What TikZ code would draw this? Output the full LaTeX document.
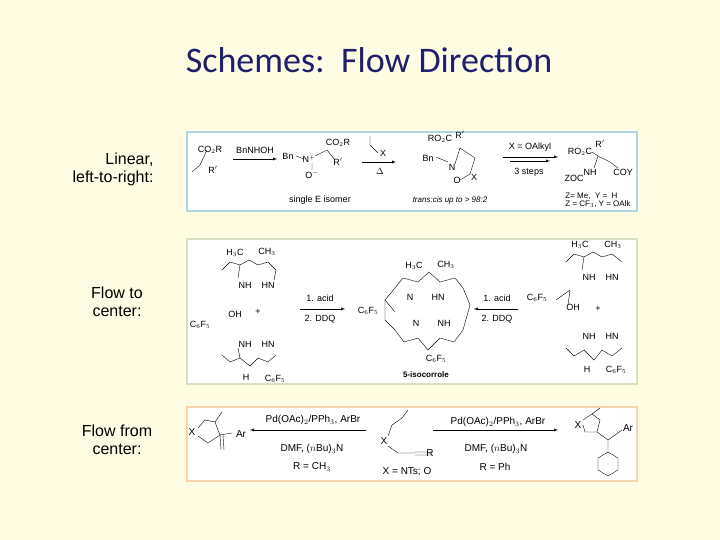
\documentclass[tikz,border=0pt]{standalone}
\usepackage{fontspec}
\setmainfont{Liberation Sans}
\newfontfamily\titlefont{Carlito}
\begin{document}
\begin{tikzpicture}[x=1pt,y=-1pt,
  lbl/.style={font=\fontsize{16}{18}\selectfont,align=center,text=black},
  ch/.style={font=\fontsize{9}{10}\selectfont,inner sep=0.5pt},
  rx/.style={-latex,thin},
  bond/.style={thin}]
\fill[fill={rgb,255:red,254;green,253;blue,227}] (0,0) rectangle (720,540);
\useasboundingbox (0,0) rectangle (720,540);
\node[font=\titlefont\fontsize{36}{40}\selectfont,text={rgb,255:red,31;green,31;blue,110}] (title) at (369,60) {Schemes:\ \ Flow Direction};
\node[lbl,align=right,anchor=east] (l1) at (157,169) {Linear,\\left-to-right:};
\node[lbl] (l2) at (117,302) {Flow to\\center:};
\node[lbl] (l3) at (117,440) {Flow from\\center:};
% boxes
\draw[line width=2pt,draw={rgb,255:red,173;green,214;blue,225},fill=white] (187,132) rectangle (637,211);
\draw[line width=2pt,draw={rgb,255:red,214;green,226;blue,190},fill=white] (187,239) rectangle (637,384);
\draw[line width=2pt,draw={rgb,255:red,245;green,210;blue,170},fill=white] (187,407) rectangle (637,481);
% box 1
\node[ch] (a1) at (210,150) {CO$_2$R};
\node[ch] (a2) at (213,170) {R$'$};
\draw[bond] (192,172)--(200,165)--(207,150);
\node[ch] (r1) at (255,150) {BnNHOH};
\draw[rx] (233,159)--(277,159);
\node[ch] (b1) at (288,156) {Bn};
\node[ch] (b2) at (309,159) {N$^+$};
\node[ch] (b3) at (312,175) {O$^-$};
\node[ch] (b4) at (338,143) {CO$_2$R};
\node[ch] (b5) at (338,162) {R$'$};
\draw[bond] (296,156)--(304,159) (312,163)--(312,170) (315,156)--(327,150)--(335,160);
\node[ch] (s1) at (320,200) {single E isomer};
\draw[bond] (370,136)--(370,145)--(378,153);
\node[ch] (x1) at (383,153) {X};
\node[ch] (d1) at (380,171) {$\Delta$};
\draw[rx] (362,162)--(396,162);
\node[ch] (c1) at (440,139) {RO$_2$C};
\node[ch] (c2) at (460,135) {R$'$};
\node[ch] (c3) at (428,158) {Bn};
\node[ch] (c4) at (452,167) {N};
\node[ch] (c5) at (457,180) {O};
\node[ch] (c6) at (474,177) {X};
\draw[bond] (436,157)--(448,162) (455,164)--(460,148)--(475,158)--(470,174)--(460,180);
\node[ch,font=\itshape\fontsize{8}{9}\selectfont] (s2) at (450,200) {trans:cis up to > 98:2};
\node[ch] (r2) at (530,147) {X = OAlkyl};
\draw[rx] (503,157)--(558,157);
\draw[rx] (510,161)--(550,161);
\node[ch] (r3) at (529,172) {3 steps};
\node[ch] (e1) at (580,152) {RO$_2$C};
\node[ch] (e2) at (600,144) {R$'$};
\node[ch] (e3) at (590,172) {NH};
\node[ch] (e4) at (574,178) {ZOC};
\node[ch] (e5) at (623,172) {COY};
\node[ch] (e6) at (594,160) {};
\draw[bond] (592,152)--(598,156)--(610,162)--(618,168) (598,156)--(594,168);
\node[ch,align=left,font=\fontsize{8}{8}\selectfont] (e7) at (598,200) {Z= Me,\ \ Y = \ H\\Z = CF$_3$, Y = OAlk};
% box 2
\node[ch] (p1) at (235,253) {H$_3$C};
\node[ch] (p2) at (267,252) {CH$_3$};
\node[ch] (p3) at (245,285) {NH};
\node[ch] (p4) at (268,285) {HN};
\draw[bond] (222,270)--(230,262)--(240,265)--(238,278) (258,265)--(268,262)--(276,270)--(274,280) (240,265)--(249,260)--(258,265);
\node[ch] (p5) at (200,325) {C$_6$F$_5$};
\node[ch] (p6) at (235,314) {OH};
\node[ch] (p7) at (258,312) {+};
\node[ch] (p8) at (245,344) {NH};
\node[ch] (p9) at (268,344) {HN};
\node[ch] (p10) at (246,377) {H};
\node[ch] (p11) at (275,379) {C$_6$F$_5$};
\draw[bond] (222,355)--(230,362)--(240,358)--(238,348) (258,358)--(268,362)--(276,355) (240,358)--(250,366)--(258,358);
\node[ch] (q1) at (320,298) {1. acid};
\node[ch] (q2) at (320,319) {2. DDQ};
\draw[rx] (300,309)--(345,309);
\node[ch] (m1) at (414,266) {H$_3$C};
\node[ch] (m2) at (446,265) {CH$_3$};
\node[ch] (m3) at (410,297) {N};
\node[ch] (m4) at (438,297) {HN};
\node[ch] (m5) at (368,311) {C$_6$F$_5$};
\node[ch] (m6) at (416,323) {N};
\node[ch] (m7) at (444,323) {NH};
\node[ch] (m8) at (436,359) {C$_6$F$_5$};
\node[ch,font=\bfseries\fontsize{8}{9}\selectfont] (m9) at (426,375) {5-isocorrole};
\draw[bond] (395,288)--(403,278)--(418,282) (440,282)--(455,278)--(463,288) (418,282)--(429,272)--(440,282)
  (395,288)--(385,300)--(395,312) (463,288)--(470,305)--(463,330) (395,330)--(404,342)--(418,338) (440,338)--(454,342)--(463,330) (418,338)--(428,350)--(440,338) (385,300)--(385,320)--(395,330);
\node[ch] (q3) at (497,298) {1. acid};
\node[ch] (q4) at (497,319) {2. DDQ};
\draw[rx] (518,309)--(474,309);
\node[ch] (n1) at (580,245) {H$_3$C};
\node[ch] (n2) at (613,245) {CH$_3$};
\node[ch] (n3) at (589,277) {NH};
\node[ch] (n4) at (612,277) {HN};
\node[ch] (n5) at (537,298) {C$_6$F$_5$};
\node[ch] (n6) at (573,307) {OH};
\node[ch] (n7) at (598,309) {+};
\node[ch] (n8) at (589,336) {NH};
\node[ch] (n9) at (612,336) {HN};
\node[ch] (n10) at (587,369) {H};
\node[ch] (n11) at (616,370) {C$_6$F$_5$};
\draw[bond] (566,262)--(574,254)--(584,257)--(582,270) (602,257)--(612,254)--(622,262) (584,257)--(593,252)--(602,257)
  (566,348)--(574,356)--(584,350) (602,350)--(612,356)--(622,348) (584,350)--(594,360)--(602,350) (556,300)--(570,290)--(568,305);
% box 3
\node[ch,font=\fontsize{10}{11}\selectfont] (f1) at (192,432) {X};
\node[ch,font=\fontsize{10}{11}\selectfont] (f2) at (241,434) {Ar};
\draw[bond] (198,428)--(205,420)--(215,422)--(220,435)--(208,443)--(198,436) (215,422)--(222,412) (220,435)--(232,433) (220,435)--(221,450) (223,435)--(224,450);
\node[ch,font=\fontsize{10}{11}\selectfont] (g1) at (313,420) {Pd(OAc)$_2$/PPh$_3$, ArBr};
\draw[rx] (366,430)--(250,430);
\node[ch,font=\fontsize{10}{11}\selectfont] (g2) at (312,449) {DMF, ($n$Bu)$_3$N};
\node[ch,font=\fontsize{10}{11}\selectfont] (g3) at (312,467) {R = CH$_3$};
\node[ch,font=\fontsize{10}{11}\selectfont] (h1) at (384,441) {X};
\draw[bond] (388,436)--(392,425)--(402,418)--(408,410) (388,446)--(398,453)--(415,453) (415,452)--(432,452) (415,455)--(432,455);
\node[ch,font=\fontsize{10}{11}\selectfont] (h2) at (430,453) {R};
\node[ch,font=\fontsize{10}{11}\selectfont] (h3) at (407,472) {X = NTs; O};
\node[ch,font=\fontsize{10}{11}\selectfont] (k1) at (498,422) {Pd(OAc)$_2$/PPh$_3$, ArBr};
\draw[rx] (433,430)--(558,430);
\node[ch,font=\fontsize{10}{11}\selectfont] (k2) at (496,449) {DMF, ($n$Bu)$_3$N};
\node[ch,font=\fontsize{10}{11}\selectfont] (k3) at (495,467) {R = Ph};
\node[ch,font=\fontsize{10}{11}\selectfont] (j1) at (578,425) {X};
\node[ch,font=\fontsize{10}{11}\selectfont] (j2) at (628,428) {Ar};
\draw[bond] (583,420)--(592,414)--(600,420)--(597,432)--(585,432)--(583,425) (592,414)--(600,408) (597,432)--(608,440)--(622,430) (608,440)--(608,452);
\draw[bond] (608,452)--(618,458)--(618,470)--(608,476)--(598,470)--(598,458)--cycle;
\end{tikzpicture}
\end{document}
